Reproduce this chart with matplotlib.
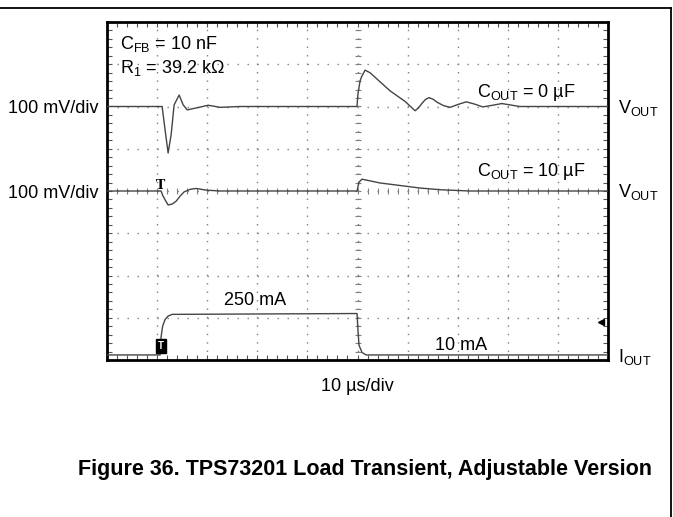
import numpy as np
import matplotlib.pyplot as plt
from matplotlib.lines import Line2D

plt.rcParams["font.family"] = ["Liberation Sans", "DejaVu Sans"]
plt.rcParams["mathtext.fontset"] = "custom"
plt.rcParams["mathtext.rm"] = "Liberation Sans"
plt.rcParams["lines.scale_dashes"] = False

# scope traces, x in divisions (10 us/div), y in divisions (screen centre = 0)
# V_OUT, C_OUT = 0 uF (offset +2 div)
t_vout0 = [0, 1.10, 1.16, 1.22, 1.28, 1.34, 1.44, 1.52, 1.60, 1.76, 2.02, 2.26, 2.65,
           4.99, 5.01, 5.05, 5.08, 5.15, 5.25, 5.65, 5.95, 6.15, 6.22, 6.29, 6.36,
           6.43, 6.51, 6.59, 6.72, 6.85, 7.01, 7.17, 7.33, 7.50, 7.70, 7.88, 8.24, 10]
v_vout0 = [2.0, 2.0, 1.44, 0.90, 1.33, 2.04, 2.27, 2.04, 1.92, 1.96, 2.03, 1.98, 2.0,
           2.0, 2.30, 2.60, 2.70, 2.86, 2.80, 2.37, 2.12, 1.90, 1.97, 2.08, 2.17,
           2.21, 2.17, 2.10, 2.02, 1.98, 2.05, 2.11, 2.06, 1.99, 2.03, 2.07, 2.0, 2.0]

# V_OUT, C_OUT = 10 uF (offset 0 div)
t_vout10 = [0, 1.08, 1.11, 1.16, 1.22, 1.30, 1.38, 1.46, 1.54, 1.66, 1.78, 1.98, 2.26,
            4.99, 5.03, 5.09, 5.25, 5.45, 5.85, 6.25, 6.65, 7.25, 10]
v_vout10 = [0, 0, -0.10, -0.21, -0.33, -0.31, -0.24, -0.12, -0.02, 0.04, 0.06, 0.02, 0,
            0, 0.21, 0.28, 0.24, 0.19, 0.13, 0.07, 0.03, 0.0, 0]

# I_OUT, 10 mA -> 250 mA -> 10 mA
t_iout = [0, 1.06, 1.08, 1.11, 1.16, 1.22, 1.30, 4.99, 5.01, 5.03, 5.09, 5.17, 10]
v_iout = [-3.88, -3.88, -3.45, -3.20, -3.04, -2.96, -2.92, -2.90, -3.30, -3.65, -3.82, -3.88, -3.88]

trace_color = "#454545"
grid_color = "#808080"

fig = plt.figure(figsize=(6.73, 5.17), dpi=100)
ax = fig.add_axes([107 / 673, 1 - 360 / 517, (608 - 107) / 673, (360 - 22) / 517])
ax.set_xlim(0, 10)
ax.set_ylim(-4, 4)

# graticule
for gx in range(1, 10):
    ax.axvline(gx, color=grid_color, lw=1.0, ls=(0, (1.0, 5.08)), zorder=1)
for gy in range(-3, 4):
    ax.axhline(gy, color=grid_color, lw=1.0, ls=(0, (1.0, 6.2)), zorder=1)
minor = np.arange(0, 10.01, 0.2)
ax.plot(minor, np.zeros_like(minor), ls="none", marker="|", ms=5, mew=0.8,
        color=grid_color, zorder=1)
minor_y = np.arange(-4, 4.01, 0.2)
ax.plot(np.full_like(minor_y, 5), minor_y, ls="none", marker="_", ms=5, mew=0.8,
        color=grid_color, zorder=1)

ax.set_xticks(minor)
ax.set_yticks(minor_y)
ax.tick_params(direction="in", length=3.5, width=0.8, color="#555555",
               top=True, right=True, labelbottom=False, labelleft=False)
for sp in ax.spines.values():
    sp.set_linewidth(2.0)

# traces
ax.plot(t_vout0, v_vout0, color=trace_color, lw=1.0, zorder=3)
ax.plot(t_vout10, v_vout10, color=trace_color, lw=1.0, zorder=3)
ax.plot(t_iout, v_iout, color=trace_color, lw=1.0, zorder=3)

# scope markers
ax.text(1.06, -0.02, "T", family="DejaVu Serif", fontweight="bold", fontsize=9,
        ha="center", va="bottom", zorder=4)
ax.text(1.07, -3.67, "T", color="white", fontsize=7, fontweight="bold",
        ha="center", va="center", zorder=4,
        bbox=dict(boxstyle="square,pad=0.2", fc="black", ec="black"))
ax.plot([9.86], [-3.10], marker="<", ms=4.5, color="black", zorder=4)

# annotations inside the screen
fs = 13
ax.text(0.26, 3.35, r"C$_{\mathrm{FB}}$ = 10 nF", fontsize=fs, va="baseline")
ax.text(0.26, 2.80, r"R$_{\mathrm{1}}$ = 39.2 k$\Omega$", fontsize=fs, va="baseline")
ax.text(7.39, 2.22, r"C$_{\mathrm{OUT}}$ = 0 µF", fontsize=fs, va="baseline")
ax.text(7.39, 0.36, r"C$_{\mathrm{OUT}}$ = 10 µF", fontsize=fs, va="baseline")
ax.text(2.96, -2.6, "250 mA", fontsize=fs, ha="center", va="center")
ax.text(7.06, -3.66, "10 mA", fontsize=fs, ha="center", va="center")

# labels outside the screen
ax.text(-0.16, 2.0, "100 mV/div", fontsize=fs, ha="right", va="center_baseline", clip_on=False)
ax.text(-0.16, 0.0, "100 mV/div", fontsize=fs, ha="right", va="center_baseline", clip_on=False)
ax.text(10.2, 1.85, r"V$_{\mathrm{OUT}}$", fontsize=fs, va="baseline", clip_on=False)
ax.text(10.2, -0.14, r"V$_{\mathrm{OUT}}$", fontsize=fs, va="baseline", clip_on=False)
ax.text(10.2, -4.05, r"I$_{\mathrm{OUT}}$", fontsize=fs, va="baseline", clip_on=False)
ax.text(5.0, -4.63, "10 µs/div", fontsize=fs, ha="center", va="center", clip_on=False)

fig.text(365 / 673, 1 - 470 / 517, "Figure 36. TPS73201 Load Transient, Adjustable Version",
         fontsize=15.5, fontweight="bold", ha="center", va="center")

# page frame lines
fig.add_artist(Line2D([0, 671 / 673], [1 - 8 / 517, 1 - 8 / 517], color="black", lw=1.3))
fig.add_artist(Line2D([671 / 673, 671 / 673], [1 - 8 / 517, 0], color="black", lw=1.3))

fig.savefig("out.png", dpi=100)
